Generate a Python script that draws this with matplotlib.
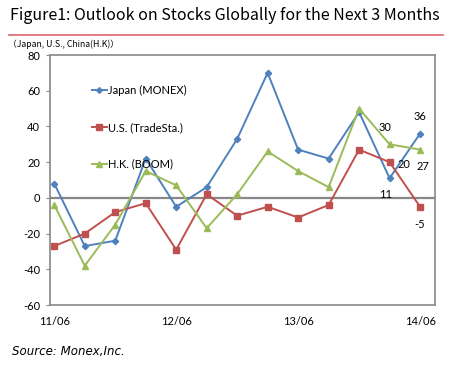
import matplotlib
matplotlib.use("Agg")
import matplotlib.pyplot as plt
from matplotlib.lines import Line2D

categories = ["11/06", "11/09", "11/12", "12/03", "12/06", "12/09", "12/12",
              "13/03", "13/06", "13/09", "13/12", "14/03", "14/06"]
japan = [8, -27, -24, 22, -5, 6, 33, 70, 27, 22, 48, 11, 36]
us = [-27, -20, -8, -3, -29, 2, -10, -5, -11, -4, 27, 20, -5]
hk = [-4, -38, -15, 15, 7, -17, 2, 26, 15, 6, 50, 30, 27]
tick_labels = ["11/06", "12/06", "13/06", "14/06"]
tick_idx = [0, 4, 8, 12]
yticks = [-60, -40, -20, 0, 20, 40, 60, 80]

blue = "#4F81BD"
red = "#C0504D"
green = "#9BBB59"
axis_grey = "#888888"
tick_font = "Lato"
fs = 8

fig = plt.figure(figsize=(4.53, 3.65), dpi=100)
ax = fig.add_axes([50/453, 1-305/365, 385/453, 250/365])

x = list(range(len(categories)))
ax.plot(x, japan, color=blue, marker="D", markersize=3.2, lw=1.4, label="Japan (MONEX)")
ax.plot(x, us, color=red, marker="s", markersize=4.5, lw=1.4, label="U.S. (TradeSta.)")
ax.plot(x, hk, color=green, marker="^", markersize=5, lw=1.4, label="H.K. (BOOM)")

ax.set_xlim(-0.14, 12.49)
ax.set_ylim(-60, 80)
ax.axhline(0, color=axis_grey, lw=1.6, zorder=1)

ax.set_yticks(yticks)
ax.set_yticklabels([str(v) for v in yticks], fontfamily=tick_font, fontsize=fs)
ax.set_xticks(tick_idx)
ax.set_xticklabels(tick_labels, fontfamily=tick_font, fontsize=fs)
ax.tick_params(axis="x", length=0, pad=8)
ax.tick_params(axis="y", length=3, color=axis_grey, pad=4, direction="out")
for side in ["left", "right", "top", "bottom"]:
    ax.spines[side].set_color(axis_grey)
    ax.spines[side].set_linewidth(1.2)

# data labels
lbl = dict(fontfamily=tick_font, fontsize=fs, ha="center", va="center")
ax.annotate(str(japan[12]), (12, japan[12]), xytext=(0, 12), textcoords="offset points", **lbl)
ax.annotate(str(japan[11]), (11, japan[11]), xytext=(-3, -12), textcoords="offset points", **lbl)
ax.annotate(str(hk[11]), (11, hk[11]), xytext=(-3, 12), textcoords="offset points", **lbl)
ax.annotate(str(us[11]), (11, us[11]), xytext=(10, -2), textcoords="offset points", **lbl)
ax.annotate(str(hk[12]), (12, hk[12]), xytext=(2, -12), textcoords="offset points", **lbl)
ax.annotate(str(us[12]), (12, us[12]), xytext=(0, -13), textcoords="offset points", **lbl)

leg = ax.legend(loc="upper left", bbox_to_anchor=(0.108, 0.879), frameon=False,
                borderaxespad=0, borderpad=0,
                handlelength=1.35, handletextpad=0.15, labelspacing=2.3,
                prop={"family": tick_font, "size": fs}, markerscale=0.9)

# title and texts
fig.text(10/453, 1-15/365, "Figure1: Outlook on Stocks Globally for the Next 3 Months",
         fontfamily="Noto Sans CJK JP", fontsize=11.5, va="center", ha="left")
fig.add_artist(Line2D([9/453, 443/453], [1-35/365, 1-35/365], color="#E0707A", lw=1.3))
fig.text(8/453, 1-44/365, "（Japan, U.S., China(H.K)）", fontfamily="Noto Sans CJK JP",
         fontsize=6.3, va="center", ha="left")
fig.text(12/453, 1-352/365, "Source: Monex,Inc.", fontfamily="DejaVu Sans", style="italic",
         fontsize=8.5, va="center", ha="left")

fig.savefig("out.png", dpi=100)
